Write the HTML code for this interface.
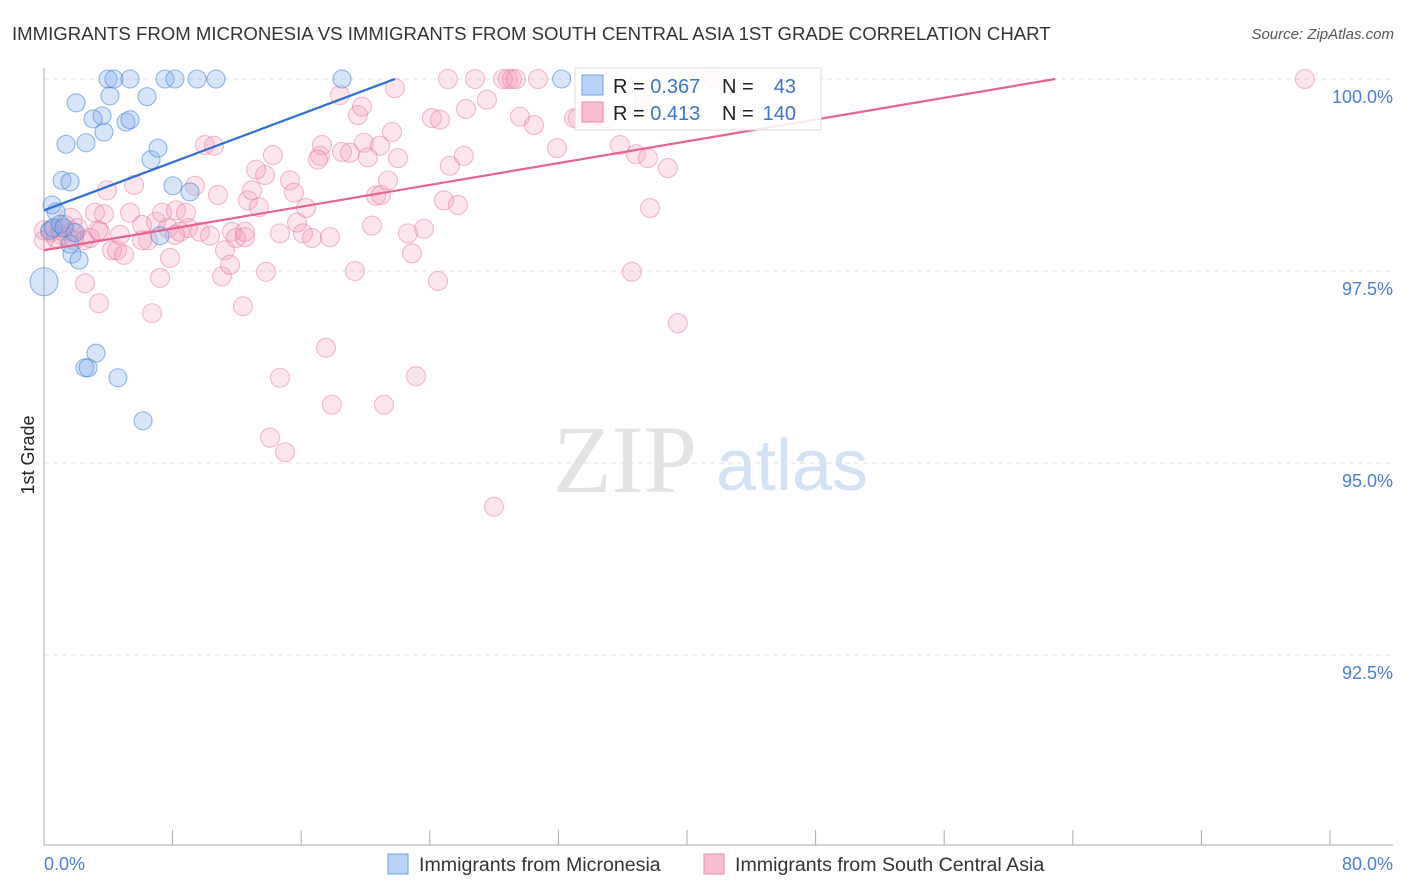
<!DOCTYPE html>
<html><head><meta charset="utf-8"><style>
body{margin:0;background:#fff;font-family:"Liberation Sans",sans-serif}
svg{display:block}
</style></head><body>
<svg id="c" width="1406" height="892" xmlns="http://www.w3.org/2000/svg">
<text x="12" y="40" font-size="18.6" fill="#333">IMMIGRANTS FROM MICRONESIA VS IMMIGRANTS FROM SOUTH CENTRAL ASIA 1ST GRADE CORRELATION CHART</text>
<text x="1394" y="39" font-size="15" fill="#555" font-style="italic" text-anchor="end">Source: ZipAtlas.com</text>
<text x="0" y="0" transform="translate(34,455) rotate(-90)" font-size="18" fill="#222" text-anchor="middle">1st Grade</text>
<g><text x="553" y="492" font-size="96" fill="#e3e3e3" font-family="Liberation Serif,serif">ZIP</text><text x="716" y="490" font-size="72" fill="#d3e2f4">atlas</text></g>
<g id="grid"></g><g id="axes"></g><g id="pts"></g><g id="trend"></g>
<g>
<rect x="575" y="68" width="246" height="62" fill="#fff" fill-opacity="0.85" stroke="#ddd"/>
<rect x="582" y="75" width="21" height="20" fill="#b8d3f5" stroke="#6fa0e0"/>
<rect x="582" y="102" width="21" height="20" fill="#f9bdd0" stroke="#e98aab"/>
<text x="613" y="93" font-size="20" fill="#222">R = <tspan fill="#3b74d1">0.367</tspan></text>
<text x="722" y="93" font-size="20" fill="#222">N =</text><text x="796" y="93" font-size="20" fill="#3b74d1" text-anchor="end">43</text>
<text x="613" y="120" font-size="20" fill="#222">R = <tspan fill="#3b74d1">0.413</tspan></text>
<text x="722" y="120" font-size="20" fill="#222">N =</text><text x="796" y="120" font-size="20" fill="#3b74d1" text-anchor="end">140</text>
</g>
<g>
<rect x="388" y="854" width="20" height="20" fill="#b8d3f5" stroke="#6fa0e0"/>
<text x="419" y="871" font-size="19.6" fill="#333">Immigrants from Micronesia</text>
<rect x="704" y="854" width="20" height="20" fill="#f9bdd0" stroke="#e98aab"/>
<text x="735" y="871" font-size="19.6" fill="#333">Immigrants from South Central Asia</text>
</g>
</svg>
<script>
const xTicks=[0,8,16,24,32,40,48,56,64,72,80];
const yTicks=[92.5,95,97.5,100];
const yTickLabels=["92.5%","95.0%","97.5%","100.0%"];
const blueX=[0.5,0.75,0.37,0.56,1.0,1.12,1.62,1.37,2.0,2.61,3.61,3.05,3.73,4.1,3.98,4.35,5.35,6.41,5.1,5.35,6.66,7.09,7.53,8.15,9.52,10.7,18.54,8.02,9.08,7.22,1.74,2.18,1.62,3.23,2.55,2.74,4.6,6.16,0,1.24,1.93,32.2];
const blueY=[98.36,98.27,98.03,98.06,98.11,98.68,98.66,99.15,99.69,99.17,99.52,99.48,99.31,99.78,100,100,100,99.77,99.44,99.47,98.95,99.10,100,100,100,100,100,98.61,98.53,97.96,97.72,97.64,97.85,96.43,96.24,96.24,96.11,95.55,97.36,98.06,98.0,100];
const pinkX=[0,0.37,0.68,1.0,1.31,1.62,1.74,1.49,2.11,2.49,2.86,3.17,3.48,3.92,3.73,4.23,4.54,4.98,5.35,5.6,6.1,6.47,6.97,7.22,7.34,7.71,7.84,6.72,2.55,3.42,8.21,8.46,8.83,9.39,8.96,9.7,10.01,10.57,10.82,11.07,11.26,11.57,11.69,11.94,12.5,12.38,12.69,12.94,13.37,13.75,13.19,13.81,14.24,14.68,14.68,15.3,15.55,15.74,16.11,16.3,16.67,17.17,17.29,17.04,17.54,17.79,17.91,18.41,18.54,19.03,19.34,19.53,19.78,19.9,20.15,20.4,20.65,20.9,20.96,21.15,21.4,21.65,21.83,22.02,22.64,22.89,23.14,23.64,24.13,24.63,24.51,24.88,25.13,25.25,25.75,26.12,26.25,26.81,27.55,27.99,28.55,28.86,29.11,29.36,29.61,30.48,30.73,31.91,32.97,33.21,34.96,35.83,36.57,36.82,37.57,37.69,38.81,39.43,41.67,78.43,14.06,14.99,0,0.75,1.12,1.87,3.36,4.73,6.1,8.15,10.33,12.5,37.3,34.1];
const pinkY=[97.90,98.01,98.06,98.03,98.10,98.16,98.01,97.94,98.06,97.90,97.93,98.26,98.01,98.55,98.24,97.77,97.77,97.71,98.26,98.62,98.10,97.90,98.14,97.41,98.26,98.06,97.67,96.95,97.34,97.08,98.29,98.01,98.26,98.61,98.06,98.01,99.14,99.13,98.49,97.43,97.77,97.58,98.01,97.93,97.94,97.04,98.42,98.55,98.33,98.75,98.82,97.49,99.01,97.99,96.11,98.68,98.52,98.13,97.99,98.32,97.93,99.0,99.14,98.95,96.50,97.94,95.76,99.79,99.05,99.04,97.5,99.53,99.64,99.17,98.98,98.09,98.48,99.13,98.49,95.76,98.68,99.31,99.88,98.97,97.99,97.73,96.13,98.05,99.49,99.47,97.37,98.42,100,98.87,98.36,99.0,99.61,100,99.73,94.43,100,100,100,100,99.51,99.4,100,99.1,99.49,99.49,99.48,99.14,97.49,99.02,98.97,98.32,98.84,96.82,100,100,95.33,95.14,98.03,97.93,97.97,97.90,98.03,97.97,97.90,97.97,97.96,98.01,99.75,99.49];
const blueTrendX=[0,21.83];const blueTrendY=[98.29,100];
const pinkTrendX=[0,62.9];const pinkTrendY=[97.77,100];
const NS="http://www.w3.org/2000/svg";
const X=v=>44+(v/80)*1286, Y=v=>79+(100-v)*76.8;
function mk(t,a,p){const e=document.createElementNS(NS,t);for(const k in a)e.setAttribute(k,a[k]);p.appendChild(e);return e;}
const grid=document.getElementById('grid'),axes=document.getElementById('axes');
yTicks.forEach((v,i)=>{
 const l=mk('line',{x1:44,x2:1393,y1:Y(v),y2:Y(v),stroke:'#e2e2e2','stroke-dasharray':'5,4'},grid);
 
 
 const t=mk('text',{x:1393,y:Y(v)+24,'font-size':18,fill:'#4a7fd6','text-anchor':'end'},axes);
 t.textContent=yTickLabels[i];
 
 
});
const ya=mk('line',{x1:44,x2:44,y1:68,y2:845,stroke:'#aaa'},axes);


const xa=mk('line',{x1:44,x2:1393,y1:845,y2:845,stroke:'#aaa'},axes);


xTicks.forEach(v=>{const t=mk('line',{x1:X(v),x2:X(v),y1:830,y2:845,stroke:'#aaa'},axes);
 
 });
const xl0=mk('text',{x:44,y:870,'font-size':18,fill:'#4a7fd6'},axes);xl0.textContent=xTicks[0].toFixed(1)+'%';


const xl1=mk('text',{x:1393,y:870,'font-size':18,fill:'#4a7fd6','text-anchor':'end'},axes);xl1.textContent=xTicks[xTicks.length-1].toFixed(1)+'%';


const pts=document.getElementById('pts');
pinkX.forEach((x,i)=>{const c=mk('circle',{cx:X(x),cy:Y(pinkY[i]),r:(i==5?12:9.5),fill:'rgba(244,150,180,0.25)',stroke:'rgba(228,110,150,0.45)','stroke-width':1.1},pts);
 
 });
blueX.forEach((x,i)=>{const c=mk('circle',{cx:X(x),cy:Y(blueY[i]),r:(i==38?14:9),fill:'rgba(130,175,235,0.32)',stroke:'rgba(60,130,220,0.55)','stroke-width':1.1},pts);
 
 });
const tr=document.getElementById('trend');
const b=mk('line',{x1:X(blueTrendX[0]),y1:Y(blueTrendY[0]),x2:X(blueTrendX[1]),y2:Y(blueTrendY[1]),stroke:'#2a6fd6','stroke-width':2.2},tr);


const p=mk('line',{x1:X(pinkTrendX[0]),y1:Y(pinkTrendY[0]),x2:X(pinkTrendX[1]),y2:Y(pinkTrendY[1]),stroke:'#e8638f','stroke-width':2.2},tr);


</script>
</body></html>
